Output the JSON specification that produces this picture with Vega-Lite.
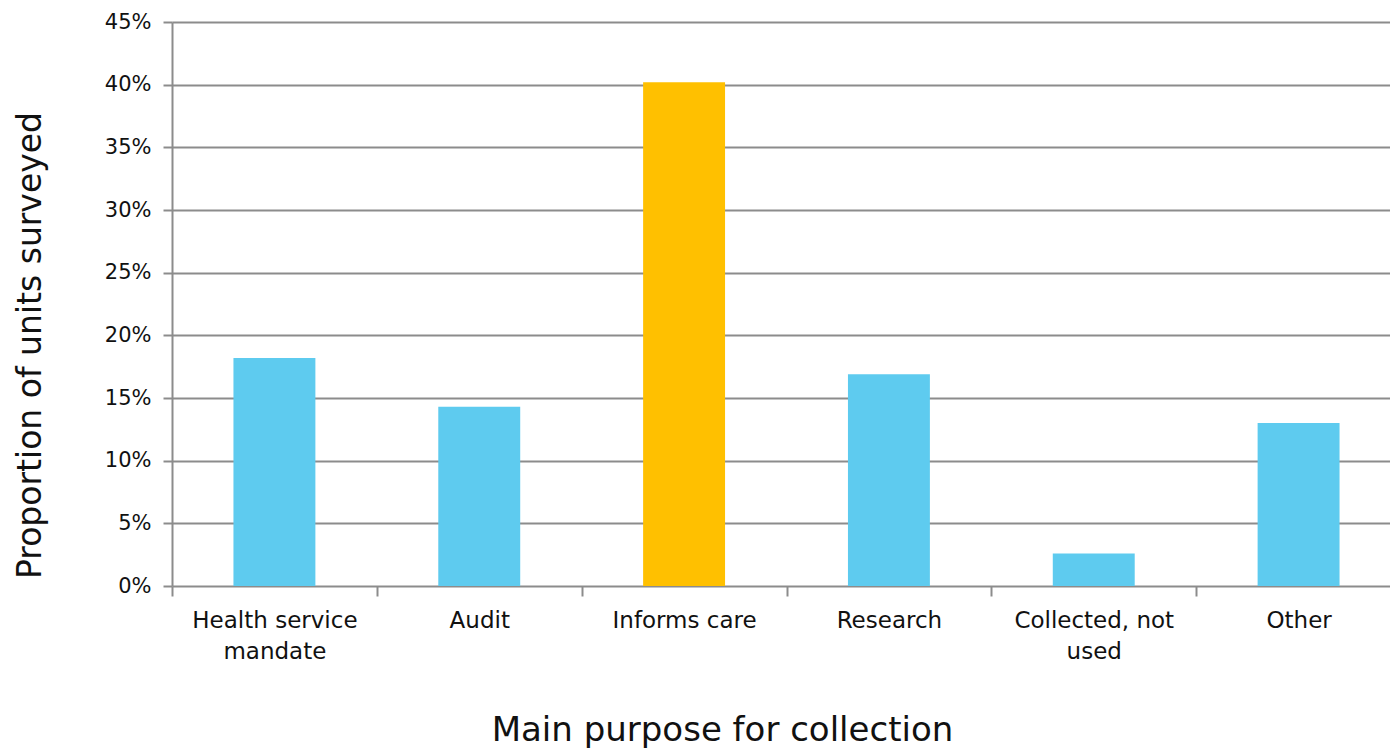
{
  "$schema": "https://vega.github.io/schema/vega-lite/v6.json",
  "width": 1218,
  "height": 564,
  "padding": {"left": 172, "top": 22, "right": 0, "bottom": 164},
  "autosize": {"type": "none"},
  "background": "white",
  "config": {
    "view": {"stroke": null},
    "font": "DejaVu Sans",
    "axis": {
      "labelFont": "DejaVu Sans",
      "titleFont": "DejaVu Sans",
      "labelColor": "#111111",
      "titleColor": "#111111",
      "titleFontWeight": "normal",
      "domainColor": "#8c8c8c",
      "tickColor": "#8c8c8c",
      "gridColor": "#8c8c8c",
      "domainWidth": 2,
      "tickWidth": 2,
      "gridWidth": 2
    }
  },
  "data": {
    "values": [
      {"purpose": "Health service mandate", "proportion": 0.182, "highlight": "no"},
      {"purpose": "Audit", "proportion": 0.143, "highlight": "no"},
      {"purpose": "Informs care", "proportion": 0.402, "highlight": "yes"},
      {"purpose": "Research", "proportion": 0.169, "highlight": "no"},
      {"purpose": "Collected, not used", "proportion": 0.026, "highlight": "no"},
      {"purpose": "Other", "proportion": 0.130, "highlight": "no"}
    ]
  },
  "mark": {"type": "bar", "width": {"band": 0.4}},
  "encoding": {
    "x": {
      "field": "purpose",
      "type": "nominal",
      "sort": null,
      "scale": {"paddingInner": 0, "paddingOuter": 0, "range": [0, 1229]},
      "axis": {
        "title": "Main purpose for collection",
        "titleFontSize": 34,
        "titleX": 550,
        "titleY": 127,
        "titleAnchor": null,
        "titleAlign": "center",
        "labelAngle": 0,
        "labelFontSize": 23,
        "labelPadding": 13,
        "labelLineHeight": 31,
        "tickBand": "extent",
        "tickSize": 10,
        "domain": false,
        "labelExpr": "datum.value == 'Health service mandate' ? ['Health service', 'mandate'] : datum.value == 'Collected, not used' ? ['Collected, not', 'used'] : datum.value"
      }
    },
    "y": {
      "field": "proportion",
      "type": "quantitative",
      "scale": {"domain": [0, 0.45], "nice": false},
      "axis": {
        "title": "Proportion of units surveyed",
        "titleFontSize": 33,
        "titleX": -125,
        "titleY": 323,
        "titleAlign": "center",
        "titleAngle": -90,
        "format": ".0%",
        "values": [0, 0.05, 0.1, 0.15, 0.2, 0.25, 0.3, 0.35, 0.4, 0.45],
        "labelFontSize": 21,
        "labelPadding": 12,
        "tickSize": 9,
        "grid": true
      }
    },
    "color": {
      "field": "highlight",
      "type": "nominal",
      "scale": {"domain": ["no", "yes"], "range": ["#5ecbef", "#ffc000"]},
      "legend": null
    }
  }
}
